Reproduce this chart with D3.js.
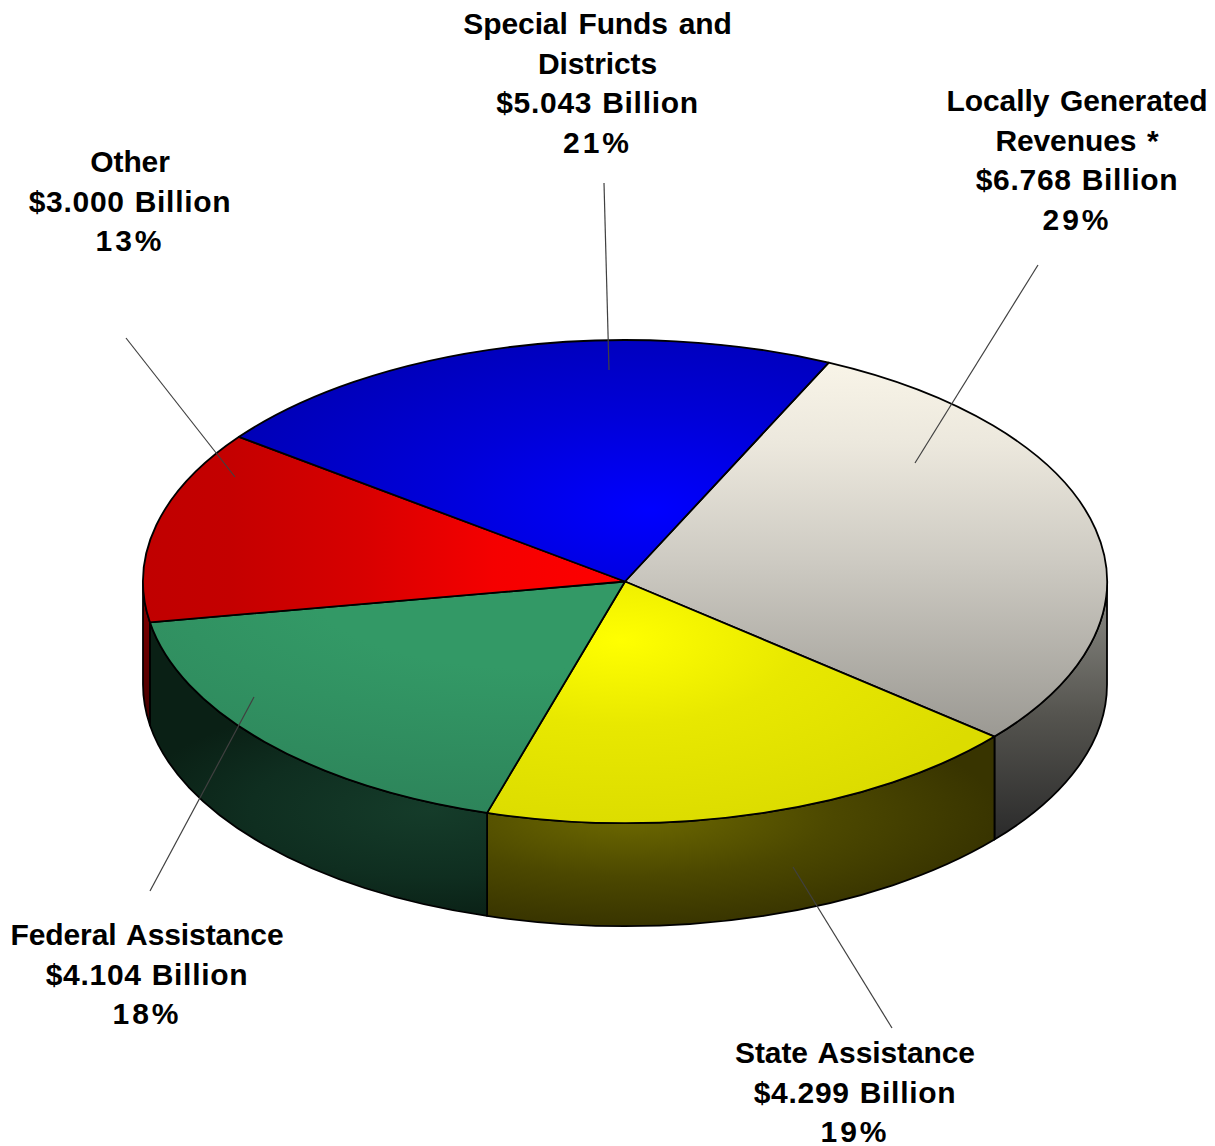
<!DOCTYPE html>
<html><head><meta charset="utf-8">
<script src="https://cdn.jsdelivr.net/npm/d3@7/dist/d3.min.js"></script>
<style>html,body{margin:0;padding:0;background:#fff}svg{display:block}
text{font-family:"Liberation Sans",Arial,sans-serif;font-weight:700;font-size:30px;fill:#000;text-anchor:middle}</style>
</head><body><svg id="c" width="1215" height="1146"></svg>
<script>
const categories = ["Locally Generated Revenues *","State Assistance","Federal Assistance","Other","Special Funds and Districts"];
const values = [6.768,4.299,4.104,3.000,5.043];
const percents = ["29%","19%","18%","13%","21%"];
const nameLines = [["Locally Generated","Revenues *"],["State Assistance"],["Federal Assistance"],["Other"],["Special Funds and","Districts"]];

const W=1215,H=1146,cx=625,cy=581.5,rx=482,ry=241.5,depth=103,lh=39.6;
const deg=Math.PI/180;
const labelPos=[{x:1077,y:111},{x:855,y:1063},{x:147,y:945},{x:130,y:172},{x:597.5,y:34}];
const leaders=[[1038,265,915,463],[892,1028,793,867],[150,891,254,697],[126,338,235,477],[604,183,609,370]];

const sx=d3.scaleLinear().domain([-1,1]).range([cx-rx,cx+rx]);
const sy=d3.scaleLinear().domain([-1,1]).range([cy-ry,cy+ry]);
const pt=a=>[sx(Math.sin(a)),sy(-Math.cos(a))];
const pie=d3.pie().sort(null).startAngle(25*deg).endAngle(385*deg);
const arcs=pie(values);
const svg=d3.select("#c");
const defs=svg.append("defs");

function radial(id,c,r,stops){
  const g=defs.append("radialGradient").attr("id",id).attr("gradientUnits","userSpaceOnUse")
    .attr("cx",0).attr("cy",0).attr("r",1)
    .attr("gradientTransform",`translate(${c[0]},${c[1]}) scale(${r[0]},${r[1]})`);
  stops.forEach(s=>g.append("stop").attr("offset",s[0]).attr("stop-color",s[1]));
}
function linear(id,p0,p1,stops){
  const g=defs.append("linearGradient").attr("id",id).attr("gradientUnits","userSpaceOnUse")
    .attr("x1",p0[0]).attr("y1",p0[1]).attr("x2",p1[0]).attr("y2",p1[1]);
  stops.forEach(s=>g.append("stop").attr("offset",s[0]).attr("stop-color",s[1]));
}
// top faces
linear("t0",[0,345],[0,740],[[0,"#fbf7ea"],[.25,"#ece8dd"],[.55,"#cdcac2"],[1,"#9a9892"]]);
radial("t1",[620,640],[400,190],[[0,"#ffff00"],[.45,"#e8e800"],[1,"#dcdc00"]]);
radial("t2",[540,590],[650,225],[[0,"#339966"],[.35,"#339966"],[1,"#2d845a"]]);
linear("t3",[625,0],[143,0],[[0,"#ff0000"],[.27,"#f50000"],[.54,"#d80000"],[.82,"#c40000"],[1,"#c00000"]]);
radial("t4",[650,510],[440,190],[[0,"#0000ff"],[.5,"#0000d8"],[1,"#0000b8"]]);
// side faces
linear("s0",[0,590],[0,840],[[0,"#8a8a84"],[.5,"#55544f"],[1,"#2a2a2a"]]);
radial("s1",[630,815],[370,112],[[0,"#6e6a00"],[.55,"#4c4800"],[1,"#383400"]]);
radial("s2",[430,810],[300,112],[[0,"#153c2a"],[.6,"#0f2e20"],[1,"#0a2015"]]);
linear("s3",[0,600],[0,730],[[0,"#800000"],[1,"#400000"]]);
linear("s4",[0,600],[0,700],[[0,"#000080"],[1,"#000040"]]);

const stroke="#000";
const sides=arcs.map((d,i)=>{
  let a=Math.max(d.startAngle,90*deg),b=Math.min(d.endAngle,270*deg);
  return {i,a,b};
}).filter(d=>d.b>d.a);
svg.append("g").selectAll("path").data(sides).join("path")
  .attr("d",d=>{
    const p=pt(d.a),q=pt(d.b);
    return `M${p}A${rx},${ry} 0 0 1 ${q}L${q[0]},${q[1]+depth}A${rx},${ry} 0 0 0 ${p[0]},${p[1]+depth}Z`;
  })
  .attr("fill",d=>`url(#s${d.i})`).attr("stroke",stroke).attr("stroke-width",1.8).attr("stroke-linejoin","round");
svg.append("g").selectAll("path").data(arcs).join("path")
  .attr("d",d=>{
    const p=pt(d.startAngle),q=pt(d.endAngle),l=(d.endAngle-d.startAngle)>Math.PI?1:0;
    return `M${cx},${cy}L${p}A${rx},${ry} 0 ${l} 1 ${q}Z`;
  })
  .attr("fill",(d,i)=>`url(#t${i})`).attr("stroke",stroke).attr("stroke-width",1.8).attr("stroke-linejoin","round");
svg.append("g").selectAll("line").data(leaders).join("line")
  .attr("x1",d=>d[0]).attr("y1",d=>d[1]).attr("x2",d=>d[2]).attr("y2",d=>d[3])
  .attr("stroke","#404040").attr("stroke-width",1.2);
const fmt=d3.format(".3f");
const lab=svg.append("g").selectAll("text").data(categories).join("text")
  .attr("transform",(d,i)=>`translate(${labelPos[i].x},${labelPos[i].y})`);
lab.selectAll("tspan").data((d,i)=>[
    ...nameLines[i].map(t=>({t,ls:-.1,ws:2.5})),
    {t:`$${fmt(values[i])} Billion`,ls:.7,ws:1},
    {t:percents[i],ls:3,ws:0}])
  .join("tspan").attr("x",0).attr("y",(d,j)=>j*lh)
  .attr("letter-spacing",d=>d.ls).attr("word-spacing",d=>d.ws).text(d=>d.t);
</script></body></html>
